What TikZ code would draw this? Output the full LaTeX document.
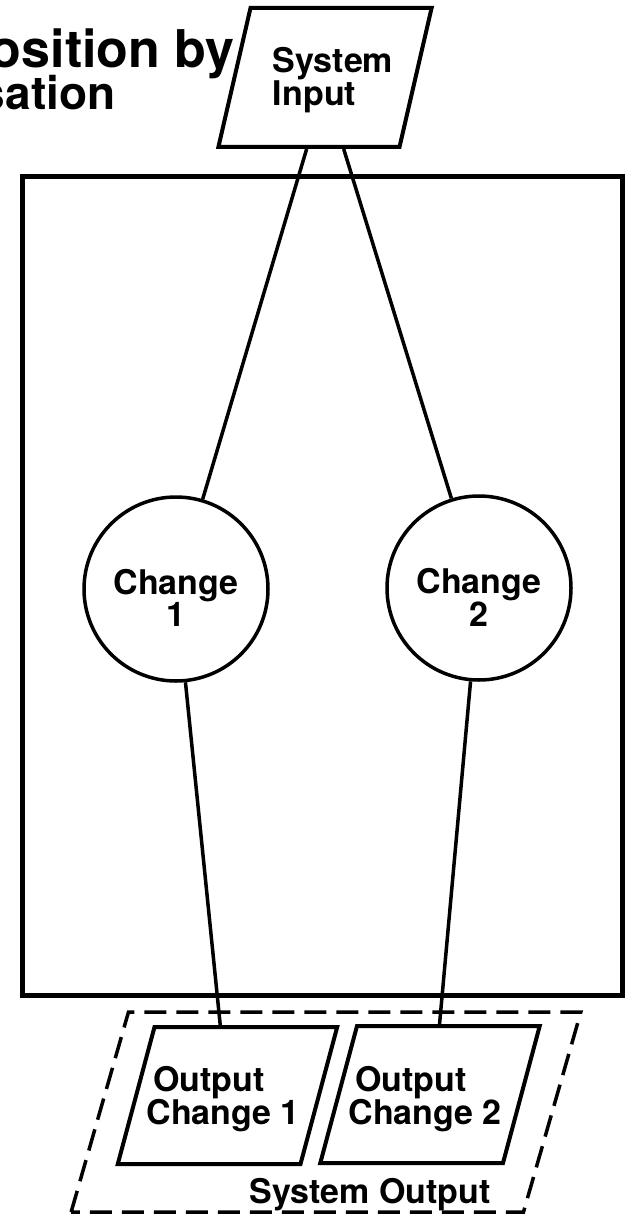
\documentclass[tikz,border=0pt]{standalone}
\usepackage{fontspec}
\setmainfont{TeX Gyre Heros}
\usetikzlibrary{calc}
\usetikzlibrary{shapes.geometric}

\tikzset{
  lbl/.style={font=\fontsize{34}{32}\selectfont\bfseries, align=center},
  iobox/.style={draw, line width=4pt, trapezium, trapezium left angle=75, trapezium right angle=105,
    inner sep=0pt, text width=146pt, text height=137pt, text depth=0pt},
  change/.style={draw, circle, line width=3.5pt, minimum size=184pt, inner sep=0pt},
  link/.style={line width=3.5pt}
}

\begin{document}
\begin{tikzpicture} [x=1pt, y=-1pt]
\useasboundingbox (0,0) rectangle (624,1222);

\node[anchor=base east, font=\fontsize{52}{48}\selectfont\bfseries] (title1) at (238,68) {osition by};
\node[anchor=base east, font=\fontsize{46}{46}\selectfont\bfseries] (title2) at (119,110) {sation};

\draw[line width=5pt] (22,177) rectangle (622,995);

\node[iobox, text width=149pt, text height=139pt, trapezium left angle=77, trapezium right angle=103] (sysin) at (325,77.5) {};
\node[lbl, font=\fontsize{34}{25}\selectfont\bfseries, align=left] (sysinlbl) at (333,80) {System\\Input};

\node[change, label={[lbl, yshift=-9pt]center:{Change\\1}}] (c1) at (176,589) {};
\node[change, label={[lbl, yshift=-9pt]center:{Change\\2}}] (c2) at (479,588) {};

\node[iobox, line width=3.5pt, dash pattern=on 22pt off 10pt, text width=395pt, text height=200pt,
  trapezium left angle=74, trapezium right angle=106] (sysout) at (326,1112) {};
\node[lbl, anchor=base] (sysoutlbl) at (370,1203) {System Output};

\node[iobox] (out1) at (227.5,1095.5) {};
\node[iobox] (out2) at (430,1094.5) {};
\node[lbl] (out1lbl) at (209,1099) {Output\\Change\rlap{~1}};
\node[lbl] (out2lbl) at (411,1099) {Output\\Change\rlap{~2}};

\draw[link] ($(sysin.bottom left corner)!0.49!(sysin.bottom right corner)$) -- (c1);
\draw[link] ($(sysin.bottom left corner)!0.69!(sysin.bottom right corner)$) -- (c2);
\draw[link] (c1) -- ($(out1.top left corner)!0.36!(out1.top right corner)$);
\draw[link] (c2) -- ($(out2.top left corner)!0.45!(out2.top right corner)$);

\end{tikzpicture}
\end{document}
